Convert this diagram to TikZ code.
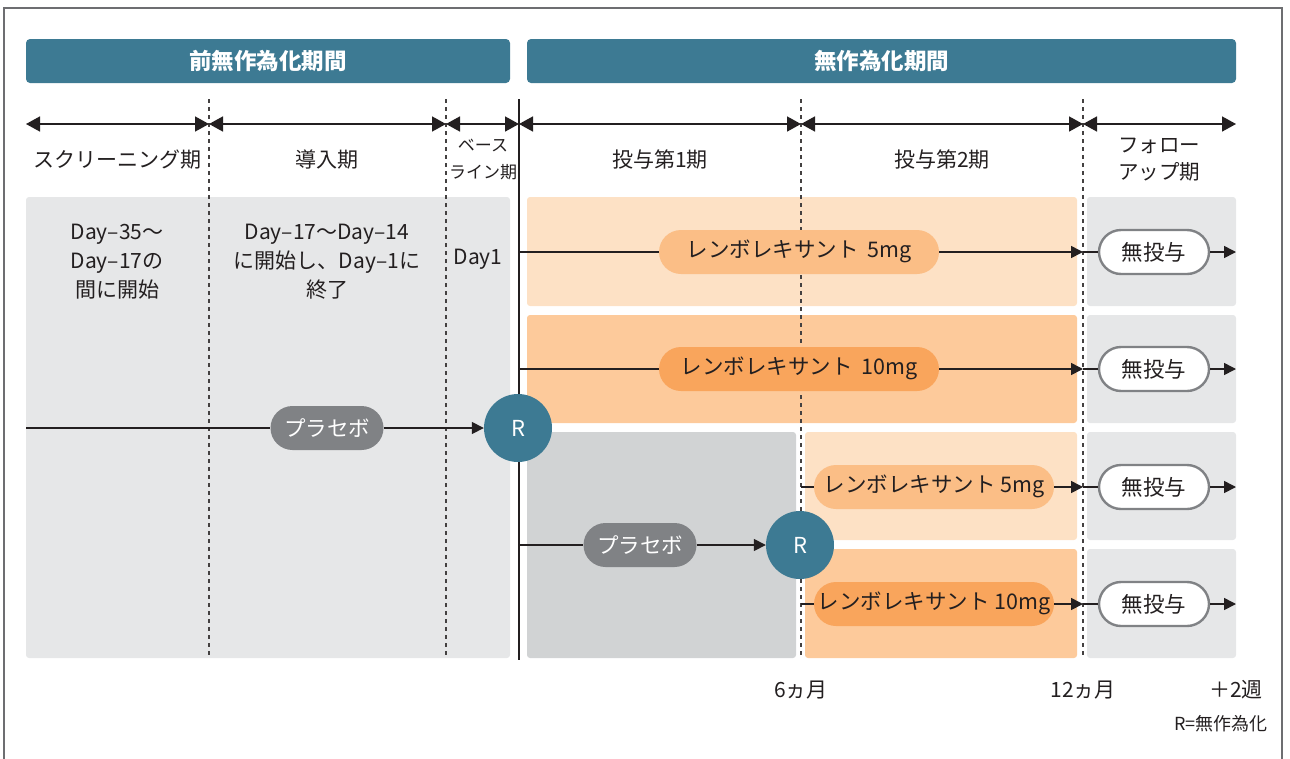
\documentclass[tikz,border=0pt]{standalone}
\usepackage{fontspec}
\setmainfont{Noto Sans CJK JP}
\usetikzlibrary{arrows.meta}
\definecolor{hdrteal}{HTML}{3D7A93}
\definecolor{panelgray}{HTML}{E6E7E8}
\definecolor{panelgrayb}{HTML}{D1D3D4}
\definecolor{orlight}{HTML}{FDE1C5}
\definecolor{ormid}{HTML}{FDCA9B}
\definecolor{pilllight}{HTML}{FBBE86}
\definecolor{pilldark}{HTML}{F9A55C}
\definecolor{pillgray}{HTML}{808285}
\definecolor{ink}{HTML}{231F20}
\definecolor{framegray}{HTML}{6D6E71}
\tikzset{
  hdr/.style={fill=hdrteal, text=white, rounded corners=4pt, minimum height=44pt, inner sep=0pt, font=\fontsize{22.5}{26}\selectfont\bfseries},
  lbl/.style={text=ink, align=center, inner sep=0pt, font=\fontsize{21}{28}\selectfont},
  smalllbl/.style={text=ink, align=center, inner sep=0pt, font=\fontsize{17}{27}\selectfont},
  pill/.style={rounded corners=22pt, minimum height=44pt, inner sep=0pt, text=ink, font=\fontsize{21.5}{26}\selectfont, yshift=0pt},
  drugA/.style={pill, fill=pilllight},
  drugB/.style={pill, fill=pilldark},
  placebo/.style={pill, fill=pillgray, text=white, minimum width=113pt},
  nomed/.style={pill, fill=white, draw=pillgray, line width=2.4pt, minimum width=110pt},
  rnd/.style={circle, fill=hdrteal, text=white, minimum size=68pt, inner sep=0pt, font=\fontsize{22}{26}\selectfont},
  conn/.style={draw=ink, line width=1.6pt},
  arr/.style={conn, -{Triangle[length=12pt,width=12pt]}},
  span/.style={draw=ink, line width=1.6pt, {Triangle[length=14pt,width=15pt]}-{Triangle[length=14pt,width=15pt]}},
  divider/.style={draw=ink!85, line width=1.6pt, dash pattern=on 4pt off 4pt},
  panel/.style={rounded corners=3pt}
}
\begin{document}
\begin{tikzpicture}[x=1pt,y=-1pt]
\useasboundingbox (0,0) rectangle (1290,758);
\clip (0,0) rectangle (1290,758);
% frame
\draw[framegray, line width=1.3pt] (4,770) -- (4,8) -- (1282,8) -- (1282,770);

% headers
\node[hdr, minimum width=484pt] (h1) at (268,61) {前無作為化期間};
\node[hdr, minimum width=709pt] (h2) at (881.5,61) {無作為化期間};

% panels
\fill[panelgray, panel] (26,197) rectangle (510,658);
\fill[orlight, panel] (527,197) rectangle (1077,306);
\fill[ormid, panel] (527,315) rectangle (1077,423);
\fill[panelgrayb, panel] (527,432) rectangle (796,658);
\fill[orlight, panel] (805,432) rectangle (1077,540);
\fill[ormid, panel] (805,549) rectangle (1077,658);
\fill[panelgray, panel] (1087,197) rectangle (1236,306);
\fill[panelgray, panel] (1087,315) rectangle (1236,423);
\fill[panelgray, panel] (1087,432) rectangle (1236,540);
\fill[panelgray, panel] (1087,549) rectangle (1236,658);

% dividers
\coordinate (d1t) at (209,99); \coordinate (d1b) at (209,658);
\coordinate (d2t) at (446,99); \coordinate (d2b) at (446,658);
\coordinate (d4t) at (801,99); \coordinate (d4b) at (801,658);
\coordinate (d5t) at (1083,99); \coordinate (d5b) at (1083,658);
\coordinate (d3t) at (519,99); \coordinate (d3b) at (519,660);
\draw[divider] (d1t) -- (d1b);
\draw[divider] (d2t) -- (d2b);
\draw[divider] (d4t) -- (d4b);
\draw[divider] (d5t) -- (d5b);
\draw[draw=ink, line width=1.6pt] (d3t) -- (d3b);

% timeline
\coordinate (t0) at (26,124);
\coordinate (t1) at (209,124);
\coordinate (t2) at (446,124);
\coordinate (t3) at (519,124);
\coordinate (t4) at (801,124);
\coordinate (t5) at (1083,124);
\coordinate (t6) at (1236,124);
\draw[span] (t0) -- (t1);
\draw[span] (t1) -- (t2);
\draw[span] (t2) -- (t3);
\draw[span] (t3) -- (t4);
\draw[span] (t4) -- (t5);
\draw[span] (t5) -- (t6);

% period labels
\node[lbl] (p1) at (117,160) {スクリーニング期};
\node[lbl] (p2) at (327,160) {導入期};
\node[smalllbl] (p3) at (483,160) {ベース\\ライン期};
\node[lbl] (p4) at (660,160) {投与第1期};
\node[lbl] (p5) at (942,160) {投与第2期};
\node[lbl, font=\fontsize{20.5}{27}\selectfont] (p6) at (1159,160) {フォロー\\アップ期};

% left texts
\node[lbl, font=\fontsize{21}{29}\selectfont] (x1) at (117,262) {Day–35〜\\Day–17の\\間に開始};
\node[lbl, font=\fontsize{21}{29}\selectfont] (x2) at (327,262) {Day–17〜Day–14\\に開始し、Day–1に\\終了};
\node[lbl] (x3) at (478,259) {Day1};

% nodes
\node[rnd] (r1) at (518,428) {R};
\node[rnd] (r2) at (800,545) {R};
\node[placebo] (pl1) at (327,428) {プラセボ};
\node[placebo] (pl2) at (640,545) {プラセボ};
\node[drugA, minimum width=280pt] (a1) at (799,252) {\strut レンボレキサント\hspace{9pt}5mg};
\node[drugB, minimum width=280pt] (a2) at (799,369) {\strut レンボレキサント\hspace{9pt}10mg};
\node[drugA, minimum width=240pt] (a3) at (934,487) {\strut レンボレキサント\hspace{5pt}5mg};
\node[drugB, minimum width=240pt] (a4) at (934,604) {\strut レンボレキサント\hspace{5pt}10mg};
\node[nomed] (n1) at (1154,252) {無投与};
\node[nomed] (n2) at (1154,369) {無投与};
\node[nomed] (n3) at (1154,487) {無投与};
\node[nomed] (n4) at (1154,604) {無投与};

% connector coordinates
\coordinate (s1) at (519,252);
\coordinate (s2) at (519,369);
\coordinate (s0) at (26,428);
\coordinate (s3) at (519,545);
\coordinate (s4) at (801,487);
\coordinate (s5) at (801,604);
\coordinate (m1) at (1083,252);
\coordinate (m2) at (1083,369);
\coordinate (m3) at (1083,487);
\coordinate (m4) at (1083,604);
\coordinate (e1) at (1236,252);
\coordinate (e2) at (1236,369);
\coordinate (e3) at (1236,487);
\coordinate (e4) at (1236,604);

% connectors
\draw[conn] (s0) -- (pl1);
\draw[arr] (pl1) -- (r1);
\draw[conn] (s3) -- (pl2);
\draw[arr] (pl2) -- (r2);
\draw[conn] (s1) -- (a1);
\draw[conn] (s2) -- (a2);
\draw[conn] (s4) -- (a3);
\draw[conn] (s5) -- (a4);
\draw[arr] (a1) -- (m1);
\draw[arr] (a2) -- (m2);
\draw[arr] (a3) -- (m3);
\draw[arr] (a4) -- (m4);
\draw[conn] (m1) -- (n1);
\draw[conn] (m2) -- (n2);
\draw[conn] (m3) -- (n3);
\draw[conn] (m4) -- (n4);
\draw[arr] (n1) -- (e1);
\draw[arr] (n2) -- (e2);
\draw[arr] (n3) -- (e3);
\draw[arr] (n4) -- (e4);

% bottom labels
\node[lbl] (b1) at (801,690) {6ヵ月};
\node[lbl] (b2) at (1083,690) {12ヵ月};
\node[lbl] (b3) at (1236,690) {＋2週};
\node[smalllbl, font=\fontsize{18}{27}\selectfont, anchor=east] (b4) at (1268,724) {R=無作為化};
\end{tikzpicture}
\end{document}
